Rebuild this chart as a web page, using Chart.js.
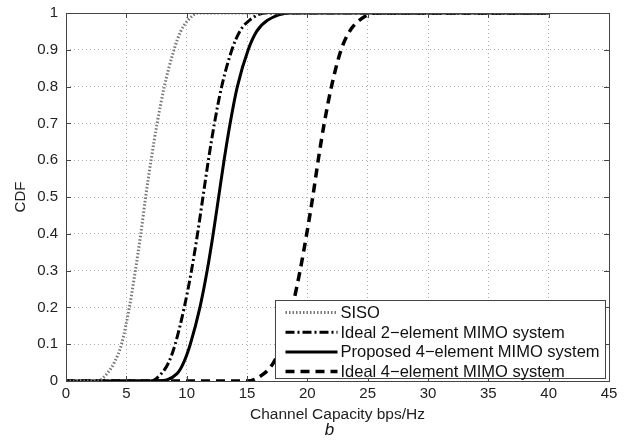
<!DOCTYPE html>
<html>
<head>
<meta charset="utf-8">
<script src="https://cdn.jsdelivr.net/npm/chart.js@4.4.1/dist/chart.umd.min.js"></script>
<style>
  html, body { margin: 0; padding: 0; background: #fff; }
  #wrap { width: 627px; height: 441px; position: relative; }
</style>
</head>
<body>
<div id="wrap"><canvas id="myChart"></canvas></div>
<script>
// CDF levels shared by all curves, capacity (bps/Hz) read for each level
const cdfLevels = [0, 0, 0.02, 0.05, 0.1, 0.2, 0.3, 0.4, 0.5, 0.6, 0.7, 0.8, 0.9, 0.95, 0.98, 1, 1];
const siso     = [0, 2.6, 3.4, 4.0, 4.6, 5.25, 5.75, 6.2, 6.6, 7.05, 7.55, 8.15, 8.95, 9.5, 10.1, 11.0, 40];
const ideal2   = [0, 7.0, 7.9, 8.5, 9.05, 9.8, 10.4, 10.9, 11.35, 11.8, 12.3, 12.9, 13.75, 14.4, 15.2, 16.5, 40];
const proposed = [0, 7.5, 9.2, 9.75, 10.3, 11.1, 11.7, 12.2, 12.65, 13.1, 13.6, 14.2, 15.1, 15.8, 16.7, 18.6, 40];
const ideal4   = [0, 15.0, 16.4, 17.2, 17.9, 18.75, 19.4, 19.95, 20.45, 20.9, 21.4, 22.0, 22.8, 23.5, 24.3, 25.6, 40];

const seriesNames = ["SISO", "Ideal 2\u2212element MIMO system", "Proposed 4\u2212element MIMO system", "Ideal 4\u2212element MIMO system"];
const xTicks = [0, 5, 10, 15, 20, 25, 30, 35, 40, 45];
const yTicks = [0, 0.1, 0.2, 0.3, 0.4, 0.5, 0.6, 0.7, 0.8, 0.9, 1];

const FONT = "'Liberation Sans', Arial, Helvetica, sans-serif";

function toPoints(xs) {
  return xs.map((x, i) => ({ x: x, y: cdfLevels[i] }));
}

// box round the plot and small inward ticks, like matlab
const frame = {
  id: "frame",
  afterDatasetsDraw(chart) {
    const { ctx, chartArea: a, scales } = chart;
    ctx.save();
    ctx.strokeStyle = "#444";
    ctx.lineWidth = 1;
    ctx.setLineDash([]);
    ctx.beginPath();
    for (const t of xTicks) {
      const px = Math.round(scales.x.getPixelForValue(t)) + 0.5;
      ctx.moveTo(px, a.bottom); ctx.lineTo(px, a.bottom - 5);
      ctx.moveTo(px, a.top); ctx.lineTo(px, a.top + 5);
    }
    for (const t of yTicks) {
      const py = Math.round(scales.y.getPixelForValue(t)) + 0.5;
      ctx.moveTo(a.left, py); ctx.lineTo(a.left + 5, py);
      ctx.moveTo(a.right, py); ctx.lineTo(a.right - 5, py);
    }
    ctx.stroke();
    ctx.strokeRect(Math.round(a.left) + 0.5, Math.round(a.top) + 0.5,
      Math.round(a.right - a.left), Math.round(a.bottom - a.top));
    ctx.restore();
  }
};

// legend inside the lower right corner
const boxLegend = {
  id: "boxLegend",
  afterDraw(chart) {
    const { ctx, chartArea: a } = chart;
    const w = 330, h = 78;
    const x0 = Math.round(a.right - 4 - w) + 0.5;
    const y0 = Math.round(a.bottom - 3 - h) + 0.5;
    ctx.save();
    ctx.fillStyle = "#fff";
    ctx.fillRect(x0, y0, w, h);
    ctx.strokeStyle = "#444";
    ctx.lineWidth = 1;
    ctx.setLineDash([]);
    ctx.strokeRect(x0, y0, w, h);
    ctx.font = "16.5px " + FONT;
    ctx.textBaseline = "middle";
    chart.data.datasets.forEach((ds, i) => {
      const y = y0 + 12 + i * 19.7;
      ctx.beginPath();
      ctx.setLineDash(ds.borderDash || []);
      ctx.strokeStyle = ds.borderColor;
      ctx.lineWidth = ds.borderWidth;
      ctx.moveTo(x0 + 10, y);
      ctx.lineTo(x0 + 62, y);
      ctx.stroke();
      ctx.setLineDash([]);
      ctx.fillStyle = "#111";
      ctx.fillText(ds.label, x0 + 65, y + 1);
    });
    // subfigure label
    ctx.font = "italic 17px " + FONT;
    ctx.textAlign = "center";
    ctx.fillStyle = "#111";
    ctx.fillText("b", (a.left + a.right) / 2 - 8, a.bottom + 49);
    ctx.restore();
  }
};

const ctx = document.getElementById("myChart");

new Chart(ctx, {
  type: "line",
  data: {
    datasets: [
      { label: seriesNames[0], data: toPoints(siso), borderColor: "#777", borderWidth: 3, borderDash: [1.5, 2] },
      { label: seriesNames[1], data: toPoints(ideal2), borderColor: "#000", borderWidth: 3, borderDash: [9, 3, 2, 3] },
      { label: seriesNames[2], data: toPoints(proposed), borderColor: "#000", borderWidth: 3 },
      { label: seriesNames[3], data: toPoints(ideal4), borderColor: "#000", borderWidth: 3.5, borderDash: [9, 6] }
    ]
  },
  options: {
    responsive: true,
    maintainAspectRatio: false,
    animation: false,
    layout: { padding: { left: 12, right: 18, top: 13, bottom: 17 } },
    elements: {
      point: { radius: 0 },
      line: { cubicInterpolationMode: "monotone", fill: false }
    },
    plugins: {
      legend: { display: false },
      tooltip: { enabled: false }
    },
    scales: {
      x: {
        type: "linear",
        min: 0, max: 45,
        afterBuildTicks: s => { s.ticks = xTicks.map(v => ({ value: v })); },
        afterFit: s => { s.height = 43; s.paddingLeft = 0; s.paddingRight = 0; },
        ticks: { font: { size: 15, family: FONT }, color: "#222", padding: 4, maxRotation: 0 },
        grid: { color: "#aaa", lineWidth: 1, drawTicks: false },
        border: { display: false, dash: [1, 3] },
        title: {
          display: true, text: "Channel Capacity bps/Hz",
          font: { size: 15.5, family: FONT }, color: "#222", padding: { top: 1, bottom: 0 }
        }
      },
      y: {
        type: "linear",
        min: 0, max: 1,
        afterBuildTicks: s => { s.ticks = yTicks.map(v => ({ value: v })); },
        afterFit: s => { s.width = 54; s.paddingTop = 0; s.paddingBottom = 0; },
        ticks: {
          font: { size: 15, family: FONT }, color: "#222", padding: 8,
          callback: v => String(Math.round(v * 10) / 10)
        },
        grid: { color: "#aaa", lineWidth: 1, drawTicks: false },
        border: { display: false, dash: [1, 3] },
        title: {
          display: true, text: "CDF",
          font: { size: 15, family: FONT }, color: "#222", padding: { top: 0, bottom: 0 }
        }
      }
    }
  },
  plugins: [frame, boxLegend]
});
</script>
</body>
</html>
